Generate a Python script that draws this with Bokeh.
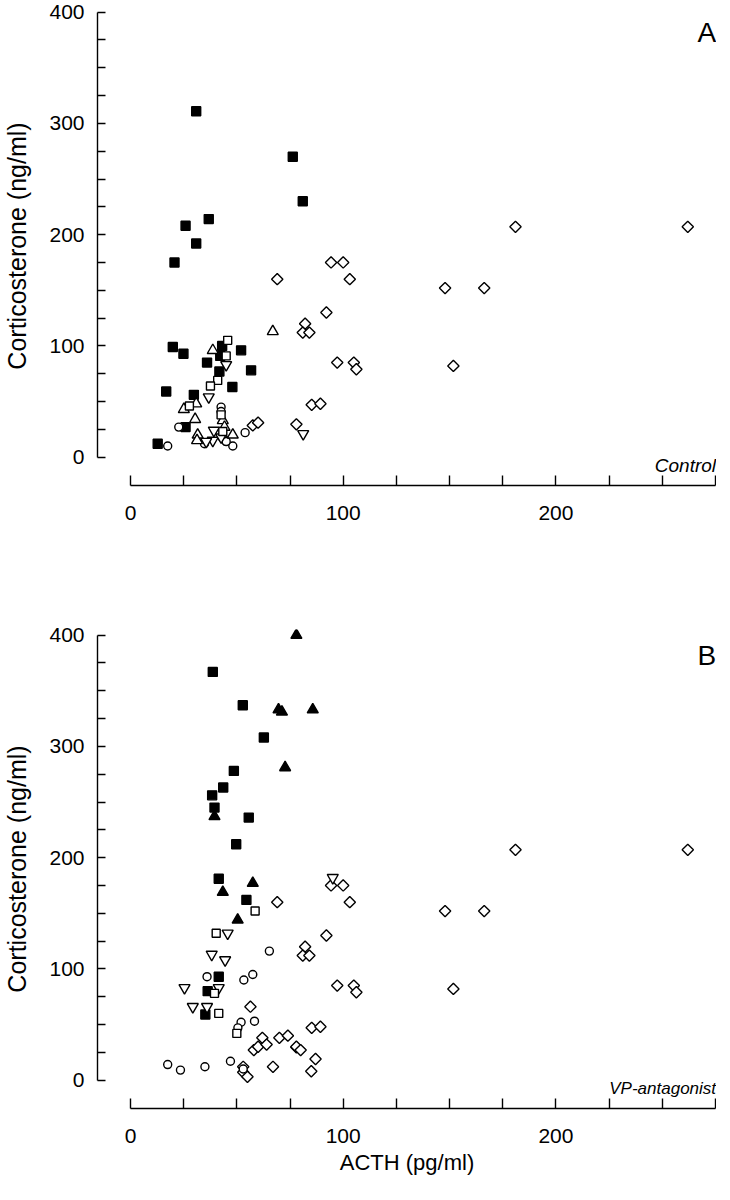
import math
from bokeh.plotting import figure
from bokeh.layouts import column
from bokeh.models import Range1d, FixedTicker
from bokeh.core.properties import value
from bokeh.embed import file_html
from bokeh.resources import INLINE

FONT = "Liberation Sans"

# ---------------- data ----------------
x_ticks = list(range(0, 276, 25))
y_ticks = list(range(0, 401, 25))
x_labels = ["0", "100", "200"]
y_labels = ["0", "100", "200", "300", "400"]

# open diamonds (same group drawn in both panels)
dia_x = [69.0, 94.3, 100.0, 103.1, 147.9, 166.3, 92.1, 82.1, 81.0, 84.1, 97.2, 105.0, 106.2, 151.8, 85.2, 89.3, 78.0, 181.0, 262.0]
dia_y = [160, 175, 175, 160, 152, 152, 130, 120, 112, 112, 85, 85, 79, 82, 47, 48, 29.5, 207, 207]

# Panel A (Control)
a_fsq_x = [30.9, 36.8, 25.9, 30.9, 20.7, 76.3, 81.0, 19.9, 24.9, 36.0, 43.1, 42.2, 52.0, 41.8, 56.7, 47.9, 16.8, 29.8, 25.9, 12.8]
a_fsq_y = [311, 214, 208, 192, 175, 270, 230, 99, 93, 85, 100, 91, 96, 77, 78, 63, 59, 56, 27, 12]
a_osq_x = [45.7, 45.0, 41.0, 37.6, 27.7, 42.6, 43.4]
a_osq_y = [105, 91, 69, 64, 46, 38, 23]
a_tri_x = [38.7, 66.9, 25.1, 30.9, 30.4, 43.4, 31.6, 31.3, 48.1, 44.2]
a_tri_y = [96, 113, 43, 48, 34, 33, 20, 15, 20, 27]
a_itri_x = [45.0, 36.8, 39.2, 38.7, 42.6, 81.2, 35.6]
a_itri_y = [83, 54, 24, 15, 18, 21, 14]
a_cir_x = [42.6, 42.6, 22.7, 17.5, 34.8, 48.1, 45.0, 53.9]
a_cir_y = [45, 41, 27, 10, 12, 10, 14, 22]
a_dia_x = [57.5, 60.0, 44.0]
a_dia_y = [28.5, 31.0, 16.0]

# Panel B (VP-antagonist)
b_fsq_x = [38.7, 52.8, 62.7, 48.6, 43.6, 38.4, 39.5, 55.6, 49.7, 41.5, 54.5, 41.5, 36.3, 35.2]
b_fsq_y = [367, 337, 308, 278, 263, 256, 245, 236, 212, 181, 162, 93, 80, 59]
b_ftri_x = [78.0, 69.6, 71.2, 85.7, 72.7, 39.5, 57.5, 43.4, 50.4]
b_ftri_y = [400, 333, 331, 333, 281, 237, 177, 169, 144]
b_osq_x = [58.6, 40.3, 39.5, 41.5, 50.0]
b_osq_y = [152, 132, 78, 60, 42]
b_itri_x = [45.7, 38.2, 44.5, 25.4, 41.5, 29.3, 36.0, 95.1]
b_itri_y = [132, 113, 108, 83, 83, 66, 66, 182]
b_cir_x = [36.0, 65.3, 53.3, 57.5, 58.3, 52.0, 50.5, 17.5, 23.5, 35.0, 47.0, 53.0]
b_cir_y = [93, 116, 90, 95, 53, 52, 47, 14, 9, 12, 17, 10]
b_dia_x = [56.4, 58.0, 60.0, 62.0, 64.0, 67.0, 70.0, 74.0, 78.0, 80.0, 87.0, 85.0, 53.0, 53.0, 55.0]
b_dia_y = [66, 27, 30, 38, 32, 12, 38, 40, 30, 27, 19, 8, 12, 7, 3]


def style_axis(ax, bounds, ticks, labels, tick_in):
    ax.bounds = bounds
    ax.ticker = FixedTicker(ticks=ticks)
    ax.major_label_overrides = {t: (str(t) if str(t) in labels else "") for t in ticks}
    ax.major_tick_in = tick_in
    ax.major_tick_out = 0
    ax.minor_tick_line_color = None
    ax.axis_line_width = 1.4
    ax.major_tick_line_width = 1.4
    ax.axis_line_color = "black"
    ax.major_tick_line_color = "black"
    ax.major_label_text_font = FONT
    ax.major_label_text_font_size = "21px"
    ax.major_label_text_color = "black"
    ax.axis_label_text_font = FONT
    ax.axis_label_text_font_size = "25px"
    ax.axis_label_text_font_style = "normal"
    ax.axis_label_text_color = "black"


def pts(p, xs, ys, marker, filled, size, angle=0.0):
    p.scatter(xs, ys, marker=marker, size=size, angle=angle,
              fill_color="black" if filled else "white",
              line_color="black", line_width=1.4)


def panel(letter, tag, tag_size, b_top, b_bottom, xlabel):
    p = figure(frame_width=619, frame_height=479,
               x_range=Range1d(-15.5, 275.5), y_range=Range1d(-25.5, 405.1),
               output_backend="svg", toolbar_location=None,
               min_border_left=95, min_border_right=0,
               min_border_top=b_top, min_border_bottom=b_bottom)
    p.grid.visible = False
    p.outline_line_color = None
    style_axis(p.xaxis[0], (0, 275), x_ticks, x_labels, 10)
    style_axis(p.yaxis[0], (0, 400), y_ticks, y_labels, 8)
    p.xaxis.major_label_standoff = 20
    p.yaxis.major_label_standoff = 13
    p.yaxis.axis_label = "Corticosterone (ng/ml)"
    p.yaxis.axis_label_standoff = 15
    if xlabel:
        p.xaxis.axis_label = xlabel
        p.xaxis.axis_label_standoff = 4
        p.xaxis.axis_label_text_font_size = "22px"
    p.text(x=[275.3], y=[381.5], text=[letter], text_align="right", text_baseline="middle",
           text_font=value(FONT), text_font_size="28px", text_color="black")
    p.text(x=[275.3], y=[-7.5], text=[tag], text_align="right", text_baseline="middle",
           text_font=value(FONT), text_font_size=tag_size, text_font_style="italic",
           text_color="black")
    return p


pa = panel("A", "Control", "19px", 6, 136, None)
pts(pa, a_fsq_x, a_fsq_y, "square", True, 9)
pts(pa, dia_x + a_dia_x, dia_y + a_dia_y, "square", False, 8, math.pi / 4)
pts(pa, a_cir_x, a_cir_y, "circle", False, 8)
pts(pa, a_itri_x, a_itri_y, "inverted_triangle", False, 11)
pts(pa, a_tri_x, a_tri_y, "triangle", False, 11)
pts(pa, a_osq_x, a_osq_y, "square", False, 8)

pb = panel("B", "VP-antagonist", "17px", 8, 76, "ACTH (pg/ml)")
pts(pb, b_fsq_x, b_fsq_y, "square", True, 9)
pts(pb, b_ftri_x, b_ftri_y, "triangle", True, 11)
pts(pb, dia_x + b_dia_x, dia_y + b_dia_y, "square", False, 8, math.pi / 4)
pts(pb, b_cir_x, b_cir_y, "circle", False, 8)
pts(pb, b_itri_x, b_itri_y, "inverted_triangle", False, 11)
pts(pb, b_osq_x, b_osq_y, "square", False, 8)

layout = column(pa, pb)
open("out.html", "w").write(file_html(layout, INLINE))
